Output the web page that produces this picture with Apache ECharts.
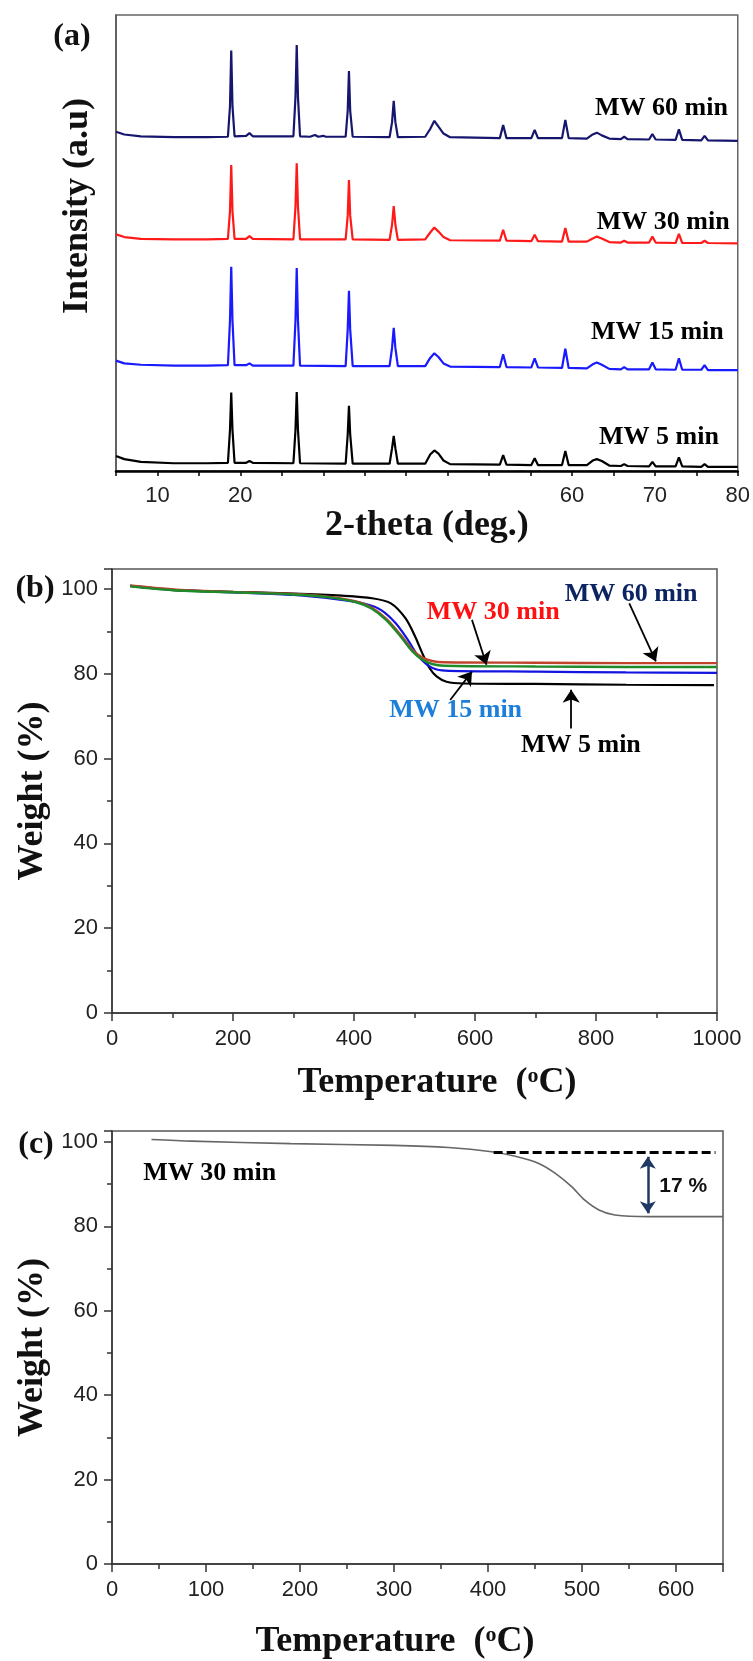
<!DOCTYPE html>
<html>
<head>
<meta charset="utf-8">
<script src="https://cdn.jsdelivr.net/npm/echarts@6/dist/echarts.min.js"></script>
<style>
  html, body { margin: 0; padding: 0; background: #fff; }
  #fig { width: 753px; height: 1661px; }
</style>
</head>
<body>
<div id="fig"></div>
<script>
// ---- (a) XRD patterns : [2-theta (deg), intensity (a.u., stacked offset as read)]
var xrd60 = [[5,74.4],[6,73.8],[8,73.4],[12,73.2],[16,73.2],[18.5,73.3],[18.75,80],[18.9,92.2],[19.05,80],[19.3,73.4],[20.7,73.5],[21.1,74.1],[21.5,73.4],[26.4,73.4],[26.65,82],[26.8,93.4],[26.95,82],[27.2,73.4],[28.4,73.3],[29.0,73.7],[29.4,73.3],[30.0,73.5],[30.3,73.3],[32.7,73.3],[32.95,79],[33.1,87.7],[33.25,79],[33.55,73.3],[38.0,73.2],[38.3,76.5],[38.5,81.2],[38.7,76.5],[39.0,73.2],[42.3,73.3],[42.9,75.0],[43.4,76.8],[43.9,75.5],[44.5,74.0],[45.3,73.2],[51.3,73.0],[51.7,75.9],[52.1,73.0],[55.1,73.0],[55.5,74.8],[55.9,73.0],[58.8,73.0],[59.2,77.0],[59.6,73.0],[61.8,72.9],[62.5,73.8],[63.0,74.2],[63.6,73.6],[64.5,72.9],[65.9,72.8],[66.3,73.3],[66.7,72.8],[69.3,72.7],[69.7,73.9],[70.1,72.7],[72.5,72.6],[72.9,74.9],[73.3,72.6],[75.6,72.5],[76.0,73.5],[76.4,72.5],[80,72.4]];
var xrd30 = [[5,51.9],[6,51.3],[8,50.9],[12,50.8],[16,50.8],[18.5,50.9],[18.75,57],[18.9,67.1],[19.05,57],[19.3,50.9],[20.7,50.9],[21.1,51.5],[21.5,50.9],[26.4,50.8],[26.65,58],[26.8,67.5],[26.95,58],[27.2,50.8],[32.7,50.8],[32.95,56],[33.1,63.8],[33.25,56],[33.55,50.8],[38.0,50.7],[38.3,54],[38.5,58.1],[38.7,54],[39.0,50.7],[42.3,50.8],[42.9,52.3],[43.4,53.4],[43.9,52.5],[44.5,51.3],[45.3,50.6],[51.3,50.5],[51.7,52.9],[52.1,50.5],[55.1,50.4],[55.5,51.8],[55.9,50.4],[58.8,50.3],[59.2,53.3],[59.6,50.3],[61.8,50.3],[62.5,51.0],[63.0,51.4],[63.6,51.0],[64.5,50.2],[65.9,50.1],[66.3,50.5],[66.7,50.1],[69.3,50.1],[69.7,51.4],[70.1,50.1],[72.5,50.0],[72.9,52.0],[73.3,50.0],[75.6,50.0],[76.0,50.5],[76.4,50.0],[80,49.9]];
var xrd15 = [[5,24.2],[6,23.6],[8,23.3],[12,23.1],[16,23.1],[18.5,23.2],[18.75,33],[18.9,44.8],[19.05,33],[19.3,23.2],[20.7,23.2],[21.1,23.6],[21.5,23.1],[26.4,23.1],[26.65,33],[26.8,44.5],[26.95,33],[27.2,23.1],[32.7,23.0],[32.95,31],[33.1,39.5],[33.25,31],[33.55,23.0],[38.0,23.0],[38.3,27],[38.5,31.4],[38.7,27],[39.0,23.0],[42.3,23.0],[42.9,24.8],[43.4,25.8],[43.9,25.0],[44.5,23.6],[45.3,22.9],[51.3,22.8],[51.7,25.6],[52.1,22.8],[55.1,22.7],[55.5,24.7],[55.9,22.7],[58.8,22.6],[59.2,26.8],[59.6,22.6],[61.8,22.5],[62.5,23.4],[63.0,23.8],[63.6,23.3],[64.5,22.4],[65.9,22.3],[66.3,22.8],[66.7,22.3],[69.3,22.3],[69.7,23.8],[70.1,22.3],[72.5,22.2],[72.9,24.7],[73.3,22.2],[75.6,22.2],[76.0,23.2],[76.4,22.1],[80,22.1]];
var xrd5 = [[5,3.3],[6,2.6],[8,2.0],[12,1.7],[16,1.7],[18.5,1.8],[18.75,9],[18.9,17.2],[19.05,9],[19.3,1.8],[20.7,1.8],[21.1,2.2],[21.5,1.8],[26.4,1.7],[26.65,9],[26.8,17.3],[26.95,9],[27.2,1.7],[32.7,1.6],[32.95,8],[33.1,14.3],[33.25,8],[33.55,1.6],[38.0,1.6],[38.3,5],[38.5,7.7],[38.7,5],[39.0,1.6],[42.3,1.6],[42.9,3.6],[43.4,4.5],[43.9,3.8],[44.5,2.3],[45.3,1.5],[51.3,1.4],[51.7,3.5],[52.1,1.4],[55.1,1.3],[55.5,2.8],[55.9,1.3],[58.8,1.3],[59.2,4.4],[59.6,1.3],[61.8,1.3],[62.5,2.3],[63.0,2.6],[63.6,2.2],[64.5,1.2],[65.9,1.1],[66.3,1.5],[66.7,1.1],[69.3,1.0],[69.7,2.0],[70.1,1.0],[72.5,1.0],[72.9,3.0],[73.3,1.0],[75.6,0.9],[76.0,1.5],[76.4,0.9],[80,0.9]];
var xrdTickLabels = [10, 20, 60, 70, 80];

// ---- (b) TGA curves : [temperature (C), weight (%)]
var tga5 = [[30,100.7],[100,99.8],[200,99.3],[300,98.9],[380,98.4],[430,97.8],[461,96.6],[485,93.1],[501,88.8],[513,84.8],[525,81.3],[537,79.3],[553,78.1],[581,77.7],[700,77.6],[850,77.4],[995,77.3]];
var tga15 = [[30,100.7],[100,99.8],[200,99.2],[300,98.6],[370,97.6],[421,96.4],[445,95.0],[469,91.9],[489,88.0],[505,84.4],[521,82.1],[537,81.0],[557,80.7],[700,80.5],[850,80.3],[1000,80.2]];
var tga30 = [[30,100.8],[100,99.9],[200,99.3],[300,98.8],[360,98.1],[405,97.0],[429,95.6],[453,93.0],[477,89.2],[497,85.6],[513,83.8],[529,83.0],[549,82.7],[700,82.6],[850,82.5],[1000,82.5]];
var tga60 = [[30,100.6],[100,99.7],[200,99.2],[300,98.7],[360,98.0],[405,96.8],[429,95.4],[453,92.7],[477,88.8],[497,85.2],[513,83.3],[529,82.3],[549,81.9],[700,81.7],[850,81.6],[1000,81.6]];

// ---- (c) TGA of MW 30 min
var tgaC = [[42,100.6],[85,100.2],[190,99.6],[300,99.2],[358,98.7],[404,97.7],[429,96.6],[454,94.9],[472,92.5],[489,89.4],[503,86.2],[518,83.9],[535,82.7],[571,82.3],[650,82.3]];
var lossLevels = [97.6, 83.1];   // onset plateau and residue used for the 17 % mark
var lossText = '17 %';

var names = ['MW 5 min', 'MW 15 min', 'MW 30 min', 'MW 60 min'];

(function(){
    var chart = echarts.init(document.getElementById('fig'));
    var SERIF = '"Liberation Serif","Times New Roman",serif';
    var SANS = '"Liberation Sans",Arial,sans-serif';
    var tickText = {fontFamily: SANS, fontSize: 22, color: '#222'};
    var titleText = {fontFamily: SERIF, fontSize: 36, fontWeight: 'bold', color: '#111'};
    var supRich = {sup: {fontFamily: SERIF, fontSize: 22, fontWeight: 'bold', color: '#111', verticalAlign: 'top'}};

    function every(step) {
        return function (v) { return Math.abs(v % step) < 1e-6 ? String(v) : ''; };
    }
    function curve(name, data, color, gi, width, smooth) {
        return {
            name: name, type: 'line', xAxisIndex: gi, yAxisIndex: gi, data: data,
            showSymbol: false, symbol: 'none', smooth: smooth || false,
            lineStyle: {color: color, width: width}, silent: true
        };
    }
    var arrowStyle = {color: '#000', width: 1.8, type: 'solid'};

    var series = [
        curve(names[0], xrd5, '#000000', 0, 2.2),
        curve(names[1], xrd15, '#1a1aff', 0, 2.2),
        curve(names[2], xrd30, '#ff1a1a', 0, 2.2),
        curve(names[3], xrd60, '#16166e', 0, 2.2),
        curve(names[0], tga5, '#000000', 1, 2.2, 0.3),
        curve(names[1], tga15, '#1414e0', 1, 2.2, 0.3),
        curve(names[2], tga30, '#c0432c', 1, 2.4, 0.3),
        curve(names[3], tga60, '#1f8a2a', 1, 2.4, 0.3),
        curve(names[2], tgaC, '#666666', 2, 1.6, 0.3)
    ];
    // arrows pointing from labels to curves, panel (b)
    series[4].markLine = {
        silent: true, symbol: ['none', 'arrow'], symbolSize: 13,
        label: {show: false}, lineStyle: arrowStyle,
        data: [
            [{coord: [595, 92.7]}, {coord: [619, 82.1]}],
            [{coord: [855, 96.6]}, {coord: [899, 82.9]}],
            [{coord: [559, 73.8]}, {coord: [595, 80.5]}],
            [{coord: [759, 67.1]}, {coord: [759, 76.2]}]
        ]
    };
    // dashed onset level and double arrow, panel (c)
    series[8].markLine = {
        silent: true, label: {show: false},
        data: [
            [{coord: [406, lossLevels[0]], symbol: 'none'}, {coord: [642, lossLevels[0]], symbol: 'none',
              lineStyle: {color: '#000', width: 3, type: [9, 4]}}],
            [{coord: [570, 96.5], symbol: 'arrow', symbolSize: 12}, {coord: [570, lossLevels[1]], symbol: 'arrow', symbolSize: 12,
              lineStyle: {color: '#1f3864', width: 2.5, type: 'solid'}}]
        ]
    };

    var option = {
        animation: false,
        backgroundColor: '#fff',
        grid: [
            {left: 116, top: 15, width: 622, height: 456, show: true, borderColor: '#666', borderWidth: 1.5},
            {left: 112, top: 569, width: 605, height: 444, show: true, borderColor: '#555', borderWidth: 1.5},
            {left: 112, top: 1131, width: 611, height: 434, show: true, borderColor: '#555', borderWidth: 1.5}
        ],
        xAxis: [
            {
                type: 'value', gridIndex: 0, min: 5, max: 80, interval: 5,
                axisLine: {lineStyle: {color: '#000', width: 2.5}},
                axisTick: {length: 5, lineStyle: {color: '#000', width: 1.5}},
                axisLabel: Object.assign({margin: 14, formatter: function (v) {
                    return xrdTickLabels.indexOf(v) >= 0 ? String(v) : '';
                }}, tickText),
                splitLine: {show: false},
                name: '2-theta (deg.)', nameLocation: 'middle', nameGap: 31, nameTextStyle: titleText
            },
            {
                type: 'value', gridIndex: 1, min: 0, max: 1000, interval: 200,
                axisLine: {lineStyle: {color: '#333', width: 1.5}},
                axisTick: {length: 8, lineStyle: {color: '#333', width: 1.5}},
                minorTick: {show: true, splitNumber: 2, length: 5, lineStyle: {color: '#333', width: 1.5}},
                axisLabel: Object.assign({margin: 15, formatter: every(200)}, tickText),
                splitLine: {show: false},
                name: 'Temperature  ({sup|o}C)', nameLocation: 'middle', nameGap: 52,
                nameTextStyle: Object.assign({padding: [0, 0, 0, 45], rich: supRich}, titleText)
            },
            {
                type: 'value', gridIndex: 2, min: 0, max: 650, interval: 100,
                axisLine: {lineStyle: {color: '#333', width: 1.5}},
                axisTick: {length: 8, lineStyle: {color: '#333', width: 1.5}},
                minorTick: {show: true, splitNumber: 2, length: 5, lineStyle: {color: '#333', width: 1.5}},
                axisLabel: Object.assign({margin: 15, formatter: every(100)}, tickText),
                splitLine: {show: false},
                name: 'Temperature  ({sup|o}C)', nameLocation: 'middle', nameGap: 60,
                nameTextStyle: Object.assign({padding: [0, 45, 0, 0], rich: supRich}, titleText)
            }
        ],
        yAxis: [
            {
                type: 'value', gridIndex: 0, min: 0, max: 100,
                axisLine: {lineStyle: {color: '#555', width: 1.5}},
                axisTick: {show: false}, axisLabel: {show: false}, splitLine: {show: false},
                name: 'Intensity (a.u)', nameLocation: 'middle', nameGap: 20,
                nameTextStyle: Object.assign({padding: [0, 0, 0, 74]}, titleText)
            },
            {
                type: 'value', gridIndex: 1, min: 0, max: 104.7, interval: 20,
                axisLine: {lineStyle: {color: '#333', width: 1.5}},
                axisTick: {length: 8, lineStyle: {color: '#333', width: 1.5}},
                minorTick: {show: true, splitNumber: 2, length: 5, lineStyle: {color: '#333', width: 1.5}},
                axisLabel: Object.assign({margin: 14, formatter: every(20)}, tickText),
                splitLine: {show: false},
                name: 'Weight (%)', nameLocation: 'middle', nameGap: 55, nameTextStyle: titleText
            },
            {
                type: 'value', gridIndex: 2, min: 0, max: 102.6, interval: 20,
                axisLine: {lineStyle: {color: '#333', width: 1.5}},
                axisTick: {length: 8, lineStyle: {color: '#333', width: 1.5}},
                minorTick: {show: true, splitNumber: 2, length: 5, lineStyle: {color: '#333', width: 1.5}},
                axisLabel: Object.assign({margin: 14, formatter: every(20)}, tickText),
                splitLine: {show: false},
                name: 'Weight (%)', nameLocation: 'middle', nameGap: 55, nameTextStyle: titleText
            }
        ],
        series: series
    };
    chart.setOption(option);

    // text notes placed in data coordinates
    var notes = [
        {g: 0, at: [70.8, 79.6], text: names[3], color: '#000'},
        {g: 0, at: [71.0, 54.6], text: names[2], color: '#000'},
        {g: 0, at: [70.3, 30.5], text: names[1], color: '#000'},
        {g: 0, at: [70.5, 7.5], text: names[0], color: '#000'},
        {g: 1, at: [630, 94.6], text: names[2], color: '#ff1010'},
        {g: 1, at: [858, 98.8], text: names[3], color: '#0c2461'},
        {g: 1, at: [568, 71.5], text: names[1], color: '#1e7fd8'},
        {g: 1, at: [775, 63.2], text: names[0], color: '#000'},
        {g: 2, at: [104, 92.6], text: names[2], color: '#000'}
    ];
    var graphic = [];
    notes.forEach(function (n) {
        var p = chart.convertToPixel({gridIndex: n.g}, n.at);
        graphic.push({type: 'text', x: p[0], y: p[1], silent: true, style: {
            text: n.text, fill: n.color, align: 'center', verticalAlign: 'middle',
            font: 'bold 26px ' + SERIF
        }});
    });
    var pl = chart.convertToPixel({gridIndex: 2}, [607.6, 89.5]);
    graphic.push({type: 'text', x: pl[0], y: pl[1], silent: true, style: {
        text: lossText, fill: '#111', align: 'center', verticalAlign: 'middle', font: 'bold 21px ' + SANS
    }});
    // panel letters
    [['(a)', 72, 37], ['(b)', 35, 589], ['(c)', 36, 1145]].forEach(function (l) {
        graphic.push({type: 'text', x: l[1], y: l[2], silent: true, style: {
            text: l[0], fill: '#111', align: 'center', verticalAlign: 'middle', font: 'bold 32px ' + SERIF
        }});
    });
    chart.setOption({graphic: graphic});
})();
</script>
</body>
</html>
